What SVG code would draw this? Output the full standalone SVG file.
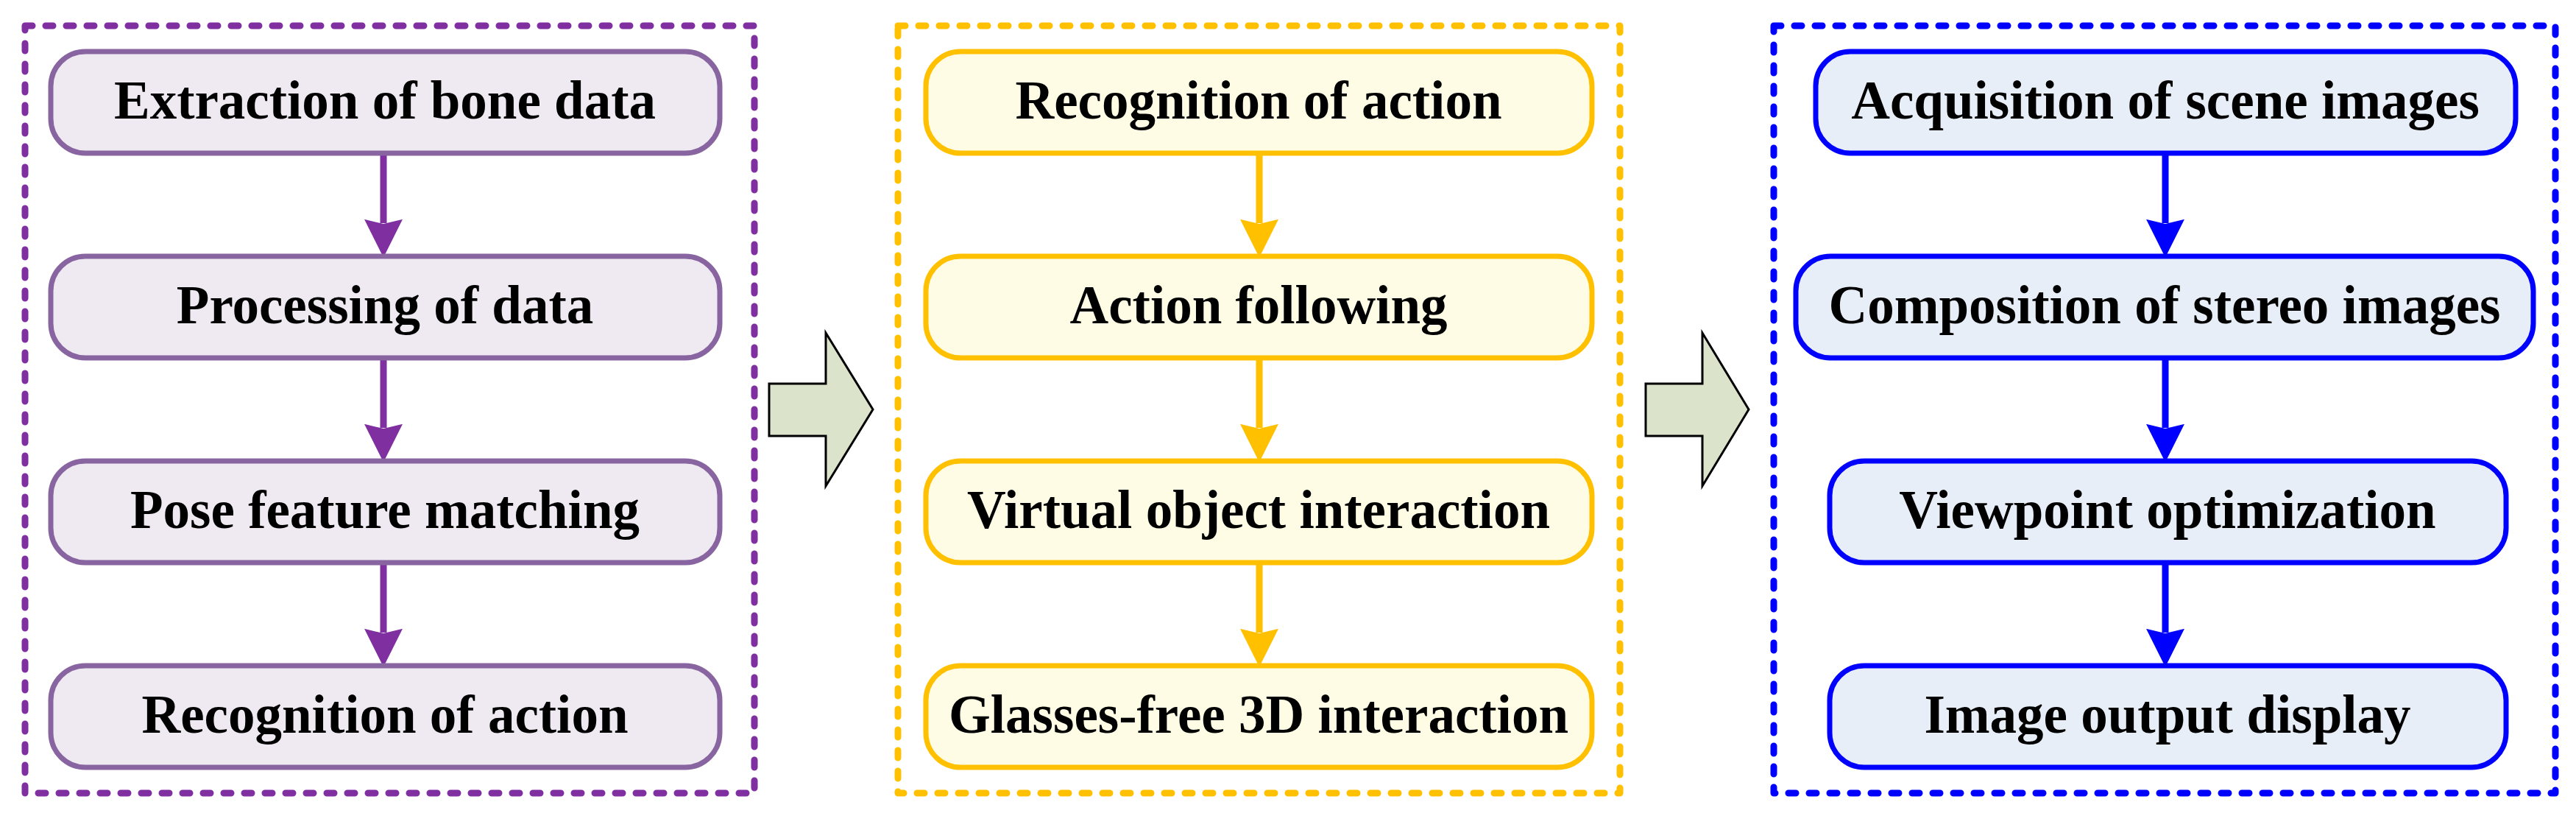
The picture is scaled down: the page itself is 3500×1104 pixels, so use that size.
<svg xmlns="http://www.w3.org/2000/svg" width="3500" height="1104" viewBox="0 0 3500 1104">
<style>
.frame{fill:none;stroke-width:9;stroke-dasharray:10 18;stroke-linecap:round;stroke-linejoin:round}
.node rect{stroke-width:7}
.p rect{fill:#EFEAF2;stroke:#8864A0}
.y rect{fill:#FEFCE4;stroke:#FFC000}
.b rect{fill:#E7EEF7;stroke:#0000FF}
.node text{font-family:"Liberation Serif","Times New Roman",serif;font-weight:bold;font-size:73px;fill:#000;text-anchor:middle}
.conn{stroke-width:9;fill:none}
.big{fill:#DCE3CB;stroke:#000;stroke-width:3;stroke-linejoin:miter}
</style>
<defs>
<marker id="ap" markerUnits="userSpaceOnUse" markerWidth="52" markerHeight="52" viewBox="0 0 50 50" refX="5" refY="25" orient="auto"><path d="M0,0 L50,25 L0,50 L6,25 Z" fill="#7F2FA0"/></marker>
<marker id="ay" markerUnits="userSpaceOnUse" markerWidth="52" markerHeight="52" viewBox="0 0 50 50" refX="5" refY="25" orient="auto"><path d="M0,0 L50,25 L0,50 L6,25 Z" fill="#FFC000"/></marker>
<marker id="ab" markerUnits="userSpaceOnUse" markerWidth="52" markerHeight="52" viewBox="0 0 50 50" refX="5" refY="25" orient="auto"><path d="M0,0 L50,25 L0,50 L6,25 Z" fill="#0000FF"/></marker>
</defs>
<rect width="3500" height="1104" fill="#fff"/>
<g id="frames">
<rect class="frame" x="34" y="35" width="991" height="1042" stroke="#7F2FA0"/>
<rect class="frame" x="1220" y="35" width="981" height="1042" stroke="#FFC000"/>
<rect class="frame" x="2410" y="35" width="1062" height="1042" stroke="#0000FF"/>
</g>
<g id="connectors">
<path class="conn" stroke="#7F2FA0" marker-end="url(#ap)" d="M521,206 V303"/>
<path class="conn" stroke="#7F2FA0" marker-end="url(#ap)" d="M521,484 V581"/>
<path class="conn" stroke="#7F2FA0" marker-end="url(#ap)" d="M521,762 V859"/>
<path class="conn" stroke="#FFC000" marker-end="url(#ay)" d="M1711,206 V303"/>
<path class="conn" stroke="#FFC000" marker-end="url(#ay)" d="M1711,484 V581"/>
<path class="conn" stroke="#FFC000" marker-end="url(#ay)" d="M1711,762 V859"/>
<path class="conn" stroke="#0000FF" marker-end="url(#ab)" d="M2942,206 V303"/>
<path class="conn" stroke="#0000FF" marker-end="url(#ab)" d="M2942,484 V581"/>
<path class="conn" stroke="#0000FF" marker-end="url(#ab)" d="M2942,762 V859"/>
<path id="bigarrow1" class="big" d="M1045,521 H1122 V452 L1186,556 L1122,660 V592 H1045 Z"/>
<path id="bigarrow2" class="big" d="M2236,521 H2313 V452 L2376,556 L2313,660 V592 H2236 Z"/>
</g>
<g id="n1" class="node p"><rect x="69" y="70" width="909" height="138" rx="47"/><text x="523" y="161">Extraction of bone data</text></g>
<g id="n2" class="node p"><rect x="69" y="348" width="909" height="138" rx="47"/><text x="523" y="439">Processing of data</text></g>
<g id="n3" class="node p"><rect x="69" y="626" width="909" height="138" rx="47"/><text x="523" y="717">Pose feature matching</text></g>
<g id="n4" class="node p"><rect x="69" y="904" width="909" height="138" rx="47"/><text x="523" y="995">Recognition of action</text></g>
<g id="m1" class="node y"><rect x="1258" y="70" width="905" height="138" rx="47"/><text x="1710" y="161">Recognition of action</text></g>
<g id="m2" class="node y"><rect x="1258" y="348" width="905" height="138" rx="47"/><text x="1710" y="439">Action following</text></g>
<g id="m3" class="node y"><rect x="1258" y="626" width="905" height="138" rx="47"/><text x="1710" y="717">Virtual object interaction</text></g>
<g id="m4" class="node y"><rect x="1258" y="904" width="905" height="138" rx="47"/><text x="1710" y="995">Glasses-free 3D interaction</text></g>
<g id="r1" class="node b"><rect x="2467" y="70" width="951" height="138" rx="47"/><text x="2942" y="161">Acquisition of scene images</text></g>
<g id="r2" class="node b"><rect x="2440" y="348" width="1002" height="138" rx="47"/><text x="2941" y="439">Composition of stereo images</text></g>
<g id="r3" class="node b"><rect x="2486" y="626" width="919" height="138" rx="47"/><text x="2945" y="717">Viewpoint optimization</text></g>
<g id="r4" class="node b"><rect x="2486" y="904" width="919" height="138" rx="47"/><text x="2945" y="995">Image output display</text></g>
</svg>
